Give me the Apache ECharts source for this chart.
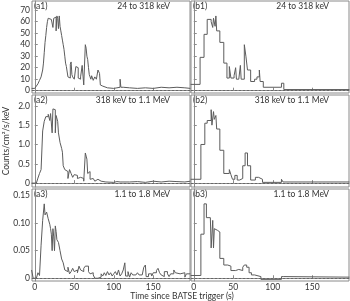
<!DOCTYPE html>
<html><head><meta charset="utf-8">
<script src="https://cdn.jsdelivr.net/npm/echarts@6/dist/echarts.min.js"></script>
<style>html,body{margin:0;padding:0;background:#fff}#c{width:350px;height:301px}</style>
</head><body><div id="c"></div>
<script>
// ---- data (time in s, counts/cm^2/s/keV) ----
const panelLabels = ['(a1)', '(a2)', '(a3)', '(b1)', '(b2)', '(b3)'];
const bandLabels = ['24 to 318 keV', '318 keV to 1.1 MeV', '1.1 to 1.8 MeV'];
const xTicks = [0, 50, 100, 150];
const yTicksRow1 = [0, 10, 20, 30, 40, 50, 60, 70];
const yTicksRow2 = [0, 0.5, 1.0, 1.5, 2.0];
const yTicksRow3 = [0, 0.05, 0.10, 0.15];

const a1 = [[-4,2],[0,3],[2,4],[4,6],[6,9],[8,12],[10,18],[11,24],[12,33],[13,42],[14,48],[15,55],[16,60],[17,63],[19,62],[21,63],[23,55],[24,63],[26,64],[27,52],[28,65],[29,63],[30,54],[31,65],[32,56],[33,52],[34,48],[35,44],[36,40],[37,36],[38,30],[39,24],[40,21],[42,12],[44,11],[45,23],[46,25],[47,14],[48,12],[50,10],[52,21],[53,20],[55,11],[56,12],[57,10],[58,12],[60,22],[61,21],[62,5],[64,40],[65,37],[66,30],[67,27],[68,20],[69,14],[70,12],[71,10],[72,13],[73,12],[74,9],[75,10],[76,12],[78,10],[80,18],[81,17],[82,15],[83,5],[84,4],[86,3],[88,2.5],[92,2],[100,2.5],[104,3],[108,10],[109,3],[112,2.5],[120,2],[130,2.5],[140,2],[150,3],[160,2.5],[170,3],[180,2.5],[190,2],[197,2]];
const a2 = [[-4,0],[2,0.05],[4,0.13],[6,0.25],[8,0.35],[10,1.35],[12,1.6],[14,1.72],[17,1.78],[19,1.62],[20,1.8],[22,1.3],[23,1.92],[24,1.9],[26,1.3],[27,1.75],[29,1.6],[30,1.3],[32,1.05],[34,0.9],[35,0.8],[36,0.45],[38,0.35],[40,0.3],[42,0.12],[44,0.35],[45,0.4],[46,0.25],[48,0.15],[50,0.22],[52,0.2],[54,0.12],[56,0.15],[58,0.1],[60,0.12],[62,0.05],[64,0.78],[65,0.7],[66,0.62],[67,0.25],[68,0.3],[70,0.1],[72,0.12],[74,0.08],[76,0.05],[78,0.1],[80,0.15],[81,0.05],[84,0.03],[90,0.02],[100,0.04],[104,0.03],[108,0.08],[110,0.03],[120,0.04],[130,0.02],[140,0.05],[150,0.03],[160,0.05],[170,0.04],[180,0.03],[190,0.05],[197,0.05]];
const a3 = [[-4,0.015],[-2,0],[2,0],[4,0.01],[6,0.005],[8,0.06],[10,0.105],[12,0.135],[13,0.115],[15,0.12],[17,0.108],[19,0.098],[20,0.09],[21,0.08],[22,0.05],[23,0.09],[24,0.075],[25,0.05],[26,0.095],[27,0.085],[28,0.07],[30,0.065],[32,0.05],[34,0.035],[36,0.028],[38,0.015],[40,0.012],[42,0.02],[44,0.008],[46,0.012],[48,0.018],[50,0.012],[52,0.015],[54,0.01],[56,0.022],[58,0.015],[60,0.012],[62,0.018],[64,0.022],[66,0.022],[68,0.012],[70,0.008],[72,0.01],[74,0.006],[76,0.0],[80,0.002],[84,0.008],[86,0.004],[88,0.01],[90,0.005],[92,0.012],[94,0.006],[96,0.01],[98,0.004],[100,0.008],[102,0.012],[104,0.006],[106,0.015],[108,0.004],[110,0.008],[112,0.015],[114,0.028],[115,0.004],[118,0.012],[120,0.002],[122,0.01],[124,0.006],[128,0.004],[130,0.01],[132,0.006],[136,0.008],[138,0.02],[140,0.024],[141,0.003],[144,0.008],[148,0.004],[150,0.01],[154,0.014],[156,0.018],[158,0.01],[160,0.006],[162,0.003],[164,0.012],[168,0.008],[170,0.003],[172,0.008],[176,0.015],[178,0.01],[180,0.008],[184,0.005],[186,0.01],[190,0.002],[192,0.008],[197,0.008]];
const b1 = [[-4,5.5],[8,29],[13,49],[17,62],[22,60],[24,55],[25,63],[27,56],[28,65],[29,52],[33,42],[38,24],[42,11],[45,21],[47,11],[51,13],[53,20],[54,10],[57,11],[59,22],[60,10],[64,40],[66,30],[68,18],[72,8],[77,10],[80,12],[83,18],[84,8],[88,3],[111,6.5],[114,1],[197,1]];
const b2 = [[-4,0.1],[9,1.0],[14,1.55],[17,1.62],[22,1.9],[23,1.5],[25,1.85],[26,1.65],[28,1.75],[29,1.4],[33,0.85],[38,0.25],[45,0.35],[47,0.22],[49,0.1],[52,0.2],[55,0.08],[58,0.12],[62,0.45],[65,0.78],[68,0.45],[72,0.08],[78,0.15],[82,0.2],[84,0.1],[87,0.02],[111,0.1],[113,0.03],[197,0.03]];
const b3 = [[-4,0.005],[9,0.08],[13,0.135],[16,0.11],[21,0.11],[22,0.055],[24,0.105],[25,0.055],[26,0.09],[27,0.087],[30,0.084],[33,0.036],[38,0.024],[43,0.022],[47,0.014],[53,0.016],[57,0.014],[62,0.02],[64,0.024],[67,0.02],[70,0.01],[73,0.006],[77,0.003],[85,-0.002],[111,0.003],[114,0.002],[197,0.002]];

const seriesData = [a1, a2, a3, b1, b2, b3];
const yTicks = [yTicksRow1, yTicksRow2, yTicksRow3];
const yRanges = [[-2, 78], [-0.1, 2.28], [-0.005, 0.162]];
const yFmt = [v => String(v), v => (v === 0 ? '0' : v.toFixed(1)), v => (v === 0 ? '0' : v.toFixed(2))];

// ---- layout ----
const FONT = 'Lato';
const colLeft = [32, 191], colW = 158;
const rowTop = [1, 95, 189], rowH = 92;
const TXT = '#333', AX = '#8a8a8a', LINE = '#5c5c5c';

const grids = [], xAxes = [], yAxes = [], series = [], graphics = [];
for (let c = 0; c < 2; c++) {
  for (let r = 0; r < 3; r++) {
    const i = c * 3 + r;
    grids.push({left: colLeft[c], top: rowTop[r], width: colW, height: rowH,
      show: true, borderColor: AX, borderWidth: 1, backgroundColor: 'transparent'});
    xAxes.push({type: 'value', gridIndex: i, min: -3.5, max: 196.5,
      axisLine: {show: true, lineStyle: {color: AX}},
      axisTick: {show: true, inside: true, length: 3, lineStyle: {color: AX}, customValues: xTicks},
      axisLabel: {show: r === 2, customValues: xTicks, color: TXT, fontFamily: FONT, fontSize: 8.5, margin: 2},
      splitLine: {show: false}});
    yAxes.push({type: 'value', gridIndex: i, min: yRanges[r][0], max: yRanges[r][1],
      axisLine: {show: true, lineStyle: {color: AX}},
      axisTick: {show: true, inside: true, length: 3, lineStyle: {color: AX}, customValues: yTicks[r]},
      axisLabel: {show: c === 0, customValues: yTicks[r], formatter: yFmt[r], color: TXT, fontFamily: FONT, fontSize: 8.5, margin: 2},
      splitLine: {show: false}});
    series.push({type: 'line', xAxisIndex: i, yAxisIndex: i, data: seriesData[i], step: 'end',
      showSymbol: false, symbol: 'none', lineStyle: {color: LINE, width: 1}, silent: true,
      animation: false,
      markLine: {silent: true, symbol: 'none', label: {show: false},
        lineStyle: {color: '#666', type: [2, 2], width: 1}, data: [{yAxis: 0}]}});
    graphics.push({type: 'text', left: colLeft[c] + 2, top: rowTop[r] + 1,
      style: {text: panelLabels[i], fill: TXT, font: '8.5px ' + FONT}});
    graphics.push({type: 'text', right: 350 - (colLeft[c] + colW) + 20, top: rowTop[r] + 1,
      style: {text: bandLabels[r], fill: TXT, font: '8.5px ' + FONT}});
  }
}
graphics.push({type: 'text', x: 182, y: 296, style: {text: 'Time since BATSE trigger (s)', fill: TXT, font: '8.5px ' + FONT, align: 'center', verticalAlign: 'middle'}});
graphics.push({type: 'text', x: 6, y: 141, rotation: Math.PI / 2, style: {text: 'Counts/cm²/s/keV', fill: TXT, font: '8.5px ' + FONT, align: 'center', verticalAlign: 'middle'}});

const chart = echarts.init(document.getElementById('c'), null, {renderer: 'canvas'});
chart.setOption({animation: false, grid: grids, xAxis: xAxes, yAxis: yAxes, series: series, graphic: graphics});
</script></body></html>
